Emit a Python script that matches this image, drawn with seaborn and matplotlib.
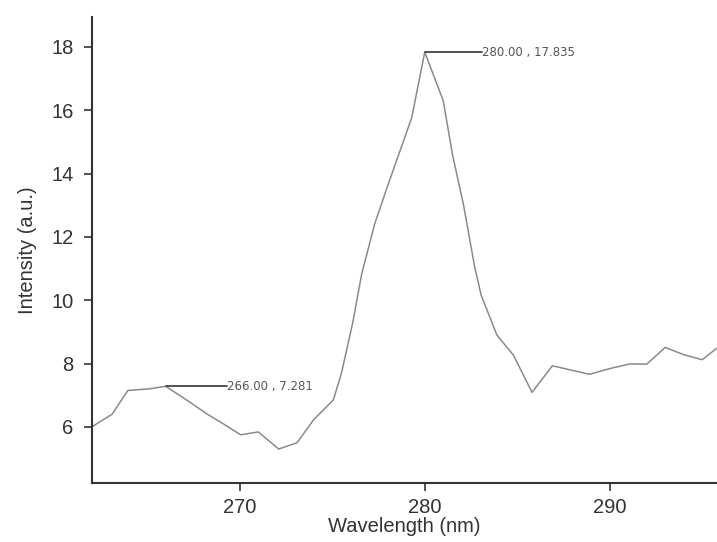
import matplotlib
matplotlib.use('Agg')
import matplotlib.pyplot as plt
import numpy as np
import pandas as pd
import seaborn as sns

# spectrum
wavelength = [262.0, 263.1, 263.95, 265.1, 266.0, 267.2, 268.25, 269.1, 270.05, 271.0,
              272.1, 273.1, 274.0, 275.06, 275.5, 276.1, 276.6, 277.3, 278.0, 279.3,
              280.0, 281.0, 281.5, 282.1, 282.7, 283.05, 283.9, 284.8, 285.8, 286.9,
              288.9, 290.0, 291.1, 292.0, 293.0, 294.0, 295.0, 295.8]
intensity = [6.0, 6.4, 7.15, 7.2, 7.281, 6.82, 6.4, 6.1, 5.75, 5.84,
             5.3, 5.5, 6.23, 6.85, 7.7, 9.27, 10.85, 12.42, 13.62, 15.77,
             17.835, 16.3, 14.6, 13.0, 11.05, 10.16, 8.9, 8.26, 7.09, 7.93,
             7.66, 7.84, 7.99, 7.98, 8.51, 8.28, 8.12, 8.49]

peak_x = [280.0, 266.0]
peak_y = [17.835, 7.281]
peak_lbl = ['280.00 , 17.835', '266.00 , 7.281']
leader_end = [283.1, 269.3]

df = pd.DataFrame({'wl': wavelength, 'I': intensity})

sns.set_style('ticks')
plt.rcParams['font.family'] = ['Liberation Sans', 'DejaVu Sans']

fig = plt.figure(figsize=(7.17, 5.42), dpi=100)
ax = fig.add_axes([0.128, 0.109, 0.872, 0.86])

sns.lineplot(data=df, x='wl', y='I', color='#8a8a8a', linewidth=1.1, ax=ax)

for px, py, lbl, xe in zip(peak_x, peak_y, peak_lbl, leader_end):
    ax.plot([px, xe], [py, py], color='#444444', linewidth=1.3)
    ax.text(xe, py, lbl, fontsize=8.5, color='#555555', va='center', ha='left',
            family='DejaVu Sans')

ax.set_xlim(262, 295.8)
ax.set_ylim(4.23, 18.95)
ax.set_xticks([270, 280, 290])
ax.set_yticks([6, 8, 10, 12, 14, 16, 18])
ax.tick_params(axis='y', labelsize=14.5, colors='#333333', length=6, width=1.2,
               direction='out', pad=7)
ax.tick_params(axis='x', labelsize=14.5, colors='#333333', length=6, width=1.2,
               direction='out', pad=5)
ax.set_xlabel('Wavelength (nm)', fontsize=14.5, color='#333333', labelpad=0)
ax.set_ylabel('Intensity (a.u.)', fontsize=14.5, color='#333333', labelpad=10)
sns.despine(ax=ax)
for s in ['left', 'bottom']:
    ax.spines[s].set_linewidth(1.5)
    ax.spines[s].set_color('#333333')

fig.savefig('out.png', dpi=100)
